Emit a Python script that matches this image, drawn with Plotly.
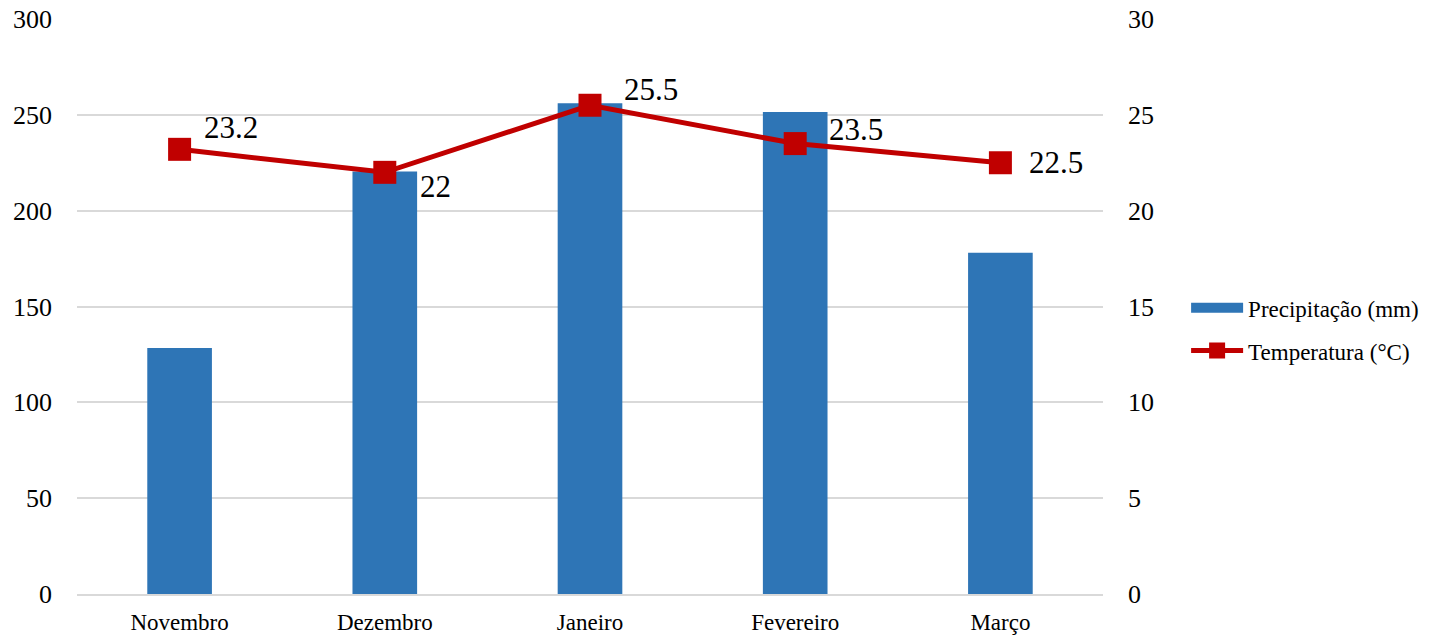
import plotly.graph_objects as go

months = ["Novembro", "Dezembro", "Janeiro", "Fevereiro", "Março"]
precip = [128.3, 220.5, 256.0, 251.5, 178.0]
temp = [23.2, 22.0, 25.5, 23.5, 22.5]
temp_labels = ["23.2", "22", "25.5", "23.5", "22.5"]
label_shift = [(51, 22), (51, -14), (61, 16), (61, 14), (56, 0)]

FONT = "Liberation Serif"
BLUE = "#2E75B6"
RED = "#C00000"

fig = go.Figure()
fig.add_trace(go.Bar(
    x=months, y=precip, name="Precipitação (mm)",
    marker=dict(color=BLUE, line=dict(width=0)),
    width=0.315, yaxis="y", showlegend=False,
))
# legend entry for the bars, drawn as a wide rectangle like the original
fig.add_trace(go.Scatter(
    x=[None], y=[None], name="Precipitação (mm)", mode="lines",
    line=dict(color=BLUE, width=12), legendgroup="a", yaxis="y",
))
fig.add_trace(go.Scatter(
    x=months, y=temp, name="Temperatura (°C)", mode="lines+markers",
    line=dict(color=RED, width=5),
    marker=dict(symbol="square", size=23, color=RED),
    yaxis="y2", legendgroup="b",
))

for m, t, lab, (dx, dy) in zip(months, temp, temp_labels, label_shift):
    fig.add_annotation(x=m, y=t, xref="x", yref="y2", text=lab, showarrow=False,
                       xshift=dx, yshift=dy, font=dict(family=FONT, size=31, color="#000"))

fig.update_layout(
    width=1432, height=637,
    margin=dict(l=77, r=329, t=19, b=43, autoexpand=False),
    plot_bgcolor="white", paper_bgcolor="white",
    font=dict(family=FONT, color="#000"),
    xaxis=dict(showgrid=False, showline=True, linecolor="#D9D9D9", linewidth=2,
               tickfont=dict(size=23, family=FONT), ticks="", ticklabelstandoff=6,
               automargin=False),
    yaxis=dict(range=[0, 300], dtick=50, showgrid=True, gridcolor="#D9D9D9", gridwidth=2,
               zeroline=False, tickfont=dict(size=26, family=FONT), ticks="",
               ticklabelstandoff=24, automargin=False),
    yaxis2=dict(range=[0, 30], dtick=5, overlaying="y", side="right", showgrid=False,
                zeroline=False, tickfont=dict(size=26, family=FONT), ticks="",
                ticklabelstandoff=24, automargin=False),
    legend=dict(x=1.081, y=0.4605, xanchor="left", yanchor="middle",
                font=dict(size=23, family=FONT), tracegroupgap=10, itemwidth=52,
                bgcolor="rgba(0,0,0,0)"),
    showlegend=True,
)

fig.write_html("out.html")
